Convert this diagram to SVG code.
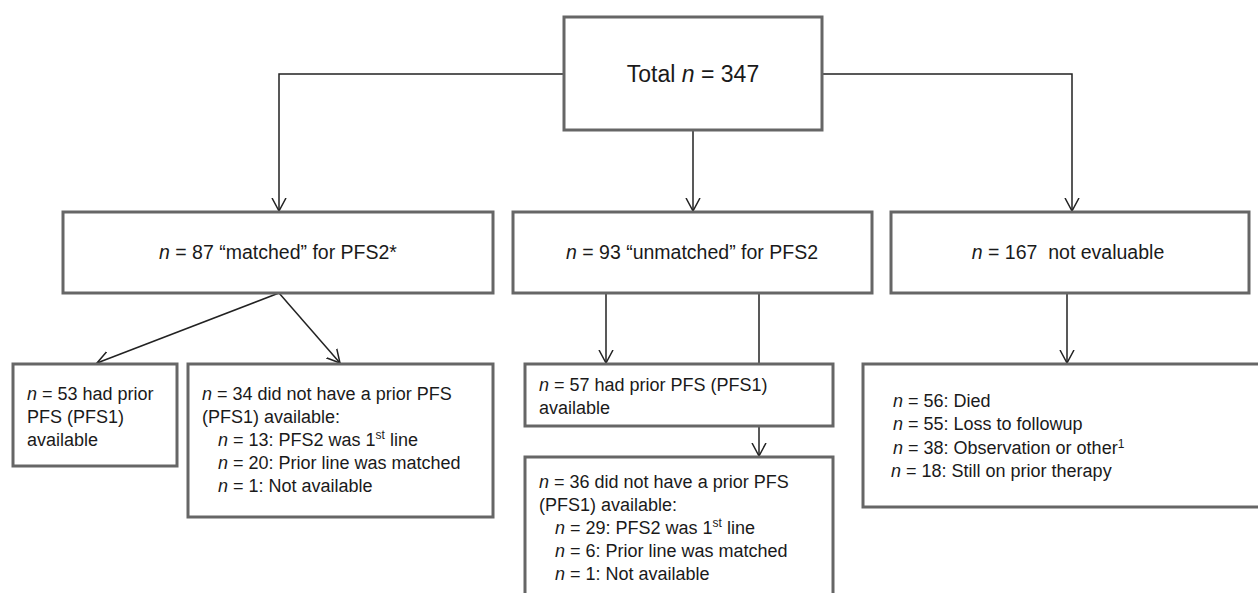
<svg xmlns="http://www.w3.org/2000/svg" width="1258" height="593" viewBox="0 0 1258 593">
<defs>
<style>
.box{fill:#fff;stroke:#666;stroke-width:3}
.con{fill:none;stroke:#222;stroke-width:1.5}
text{font-family:"Liberation Sans",Arial,sans-serif;fill:#1a1a1a}
.t1{font-size:23px}
.t2{font-size:19.5px}
.t3{font-size:18px}
.i{font-style:italic}
.sup{font-size:12px}
</style>
<marker id="arr" viewBox="0 0 14 16" refX="13" refY="8" markerWidth="14" markerHeight="16" markerUnits="userSpaceOnUse" orient="auto">
<path d="M0,1 L13,8 L0,15" fill="none" stroke="#222" stroke-width="1.5"/>
</marker>
</defs>
<rect width="1258" height="593" fill="#fff"/>
<g id="connectors">
<path class="con" d="M564,74 H279 V211" marker-end="url(#arr)"/>
<path class="con" d="M822,74 H1072 V211" marker-end="url(#arr)"/>
<path class="con" d="M693,130 V211" marker-end="url(#arr)"/>
<path class="con" d="M279,293 L97,363" marker-end="url(#arr)"/>
<path class="con" d="M279,293 L340,363" marker-end="url(#arr)"/>
<path class="con" d="M606,293 V363" marker-end="url(#arr)"/>
<path class="con" d="M759,293 V364"/>
<path class="con" d="M759,426 V456" marker-end="url(#arr)"/>
<path class="con" d="M1067,293 V363" marker-end="url(#arr)"/>
</g>
<g id="total">
<rect class="box" x="564" y="17" width="258" height="113"/>
<text class="t1" x="693" y="82" text-anchor="middle">Total <tspan class="i">n</tspan> = 347</text>
</g>
<g id="matched">
<rect class="box" x="63" y="212" width="430" height="81"/>
<text class="t2" x="278" y="259" text-anchor="middle"><tspan class="i">n</tspan> = 87 “matched” for PFS2*</text>
</g>
<g id="unmatched">
<rect class="box" x="513" y="212" width="359" height="81"/>
<text class="t2" x="692" y="259" text-anchor="middle"><tspan class="i">n</tspan> = 93 “unmatched” for PFS2</text>
</g>
<g id="notevaluable">
<rect class="box" x="891" y="212" width="358" height="81"/>
<text class="t2" x="1068" y="259" text-anchor="middle" xml:space="preserve"><tspan class="i">n</tspan> = 167  not evaluable</text>
</g>
<g id="had53">
<rect class="box" x="13" y="364" width="164" height="102"/>
<text class="t3" x="27" y="400"><tspan class="i">n</tspan> = 53 had prior</text>
<text class="t3" x="27" y="423">PFS (PFS1)</text>
<text class="t3" x="27" y="446">available</text>
</g>
<g id="not34">
<rect class="box" x="188" y="364" width="305" height="153"/>
<text class="t3" x="202" y="400"><tspan class="i">n</tspan> = 34 did not have a prior PFS</text>
<text class="t3" x="202" y="423">(PFS1) available:</text>
<text class="t3" x="218" y="446"><tspan class="i">n</tspan> = 13: PFS2 was 1<tspan class="sup" dy="-7">st</tspan><tspan dy="7"> line</tspan></text>
<text class="t3" x="218" y="469"><tspan class="i">n</tspan> = 20: Prior line was matched</text>
<text class="t3" x="218" y="492"><tspan class="i">n</tspan> = 1: Not available</text>
</g>
<g id="had57">
<rect class="box" x="525" y="364" width="308" height="62"/>
<text class="t3" x="539" y="391"><tspan class="i">n</tspan> = 57 had prior PFS (PFS1)</text>
<text class="t3" x="539" y="414">available</text>
</g>
<g id="not36">
<rect class="box" x="525" y="457" width="308" height="150"/>
<text class="t3" x="539" y="488"><tspan class="i">n</tspan> = 36 did not have a prior PFS</text>
<text class="t3" x="539" y="511">(PFS1) available:</text>
<text class="t3" x="555" y="534"><tspan class="i">n</tspan> = 29: PFS2 was 1<tspan class="sup" dy="-7">st</tspan><tspan dy="7"> line</tspan></text>
<text class="t3" x="555" y="557"><tspan class="i">n</tspan> = 6: Prior line was matched</text>
<text class="t3" x="555" y="580"><tspan class="i">n</tspan> = 1: Not available</text>
</g>
<g id="reasons">
<rect class="box" x="863" y="364" width="400" height="143"/>
<text class="t3" x="893" y="407"><tspan class="i">n</tspan> = 56: Died</text>
<text class="t3" x="893" y="430"><tspan class="i">n</tspan> = 55: Loss to followup</text>
<text class="t3" x="893" y="454"><tspan class="i">n</tspan> = 38: Observation or other<tspan class="sup" dy="-6">1</tspan></text>
<text class="t3" x="891" y="477"><tspan class="i">n</tspan> = 18: Still on prior therapy</text>
</g>
</svg>
